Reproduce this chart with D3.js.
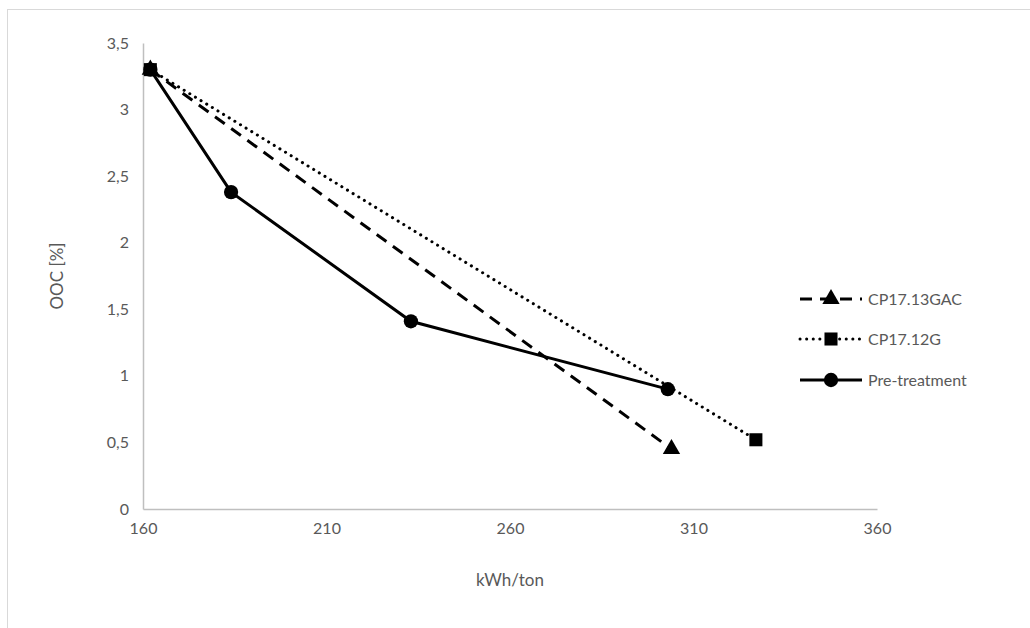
<!DOCTYPE html>
<html>
<head>
<meta charset="utf-8">
<script src="https://cdn.jsdelivr.net/npm/d3@7"></script>
<style>
body{margin:0;background:#fff;}
svg{display:block;}
text{font-family:Lato,"Open Sans",sans-serif;fill:#595959;}
</style>
</head>
<body>
<svg id="chart" width="1030" height="628"></svg>
<script>
const seriesNames = ["CP17.13GAC", "CP17.12G", "Pre-treatment"];
const gacX = [162, 304];
const gacY = [3.3, 0.45];
const g12X = [162, 327];
const g12Y = [3.3, 0.52];
const preX = [162, 184, 233, 303];
const preY = [3.3, 2.38, 1.41, 0.90];
const xTicks = [160, 210, 260, 310, 360];
const yTicks = [0, 0.5, 1, 1.5, 2, 2.5, 3, 3.5];

const svg = d3.select("#chart");
svg.append("rect").attr("x",7.5).attr("y",9.5).attr("width",1040).attr("height",640)
  .attr("fill","#fff").attr("stroke","#d9d9d9");

const x = d3.scaleLinear().domain([160,360]).range([143,877]);
const y = d3.scaleLinear().domain([0,3.5]).range([509,43]);
const fmt = d => String(d).replace(".", ",");

const xAxis = svg.append("g").attr("transform","translate(0,509)")
  .call(d3.axisBottom(x).tickValues(xTicks).tickSize(0).tickPadding(14).tickFormat(fmt));
const yAxis = svg.append("g").attr("transform","translate(143,0)")
  .call(d3.axisLeft(y).tickValues(yTicks).tickSize(0).tickPadding(14).tickFormat(fmt));
[xAxis,yAxis].forEach(a=>{
  a.select(".domain").attr("stroke","#bfbfbf").attr("stroke-width",1.5);
  a.selectAll("text").style("font-size","16px").attr("fill","#595959");
});

svg.append("text").attr("x",510).attr("y",586).attr("text-anchor","middle")
  .style("font-size","17px").text("kWh/ton");
svg.append("text").attr("transform","translate(63,276) rotate(-90)").attr("text-anchor","middle")
  .style("font-size","17px").text("OOC [%]");

const series = [
  {name:seriesNames[0], xs:gacX, ys:gacY, dash:"12,8", cap:"butt", marker:"triangle"},
  {name:seriesNames[1], xs:g12X, ys:g12Y, dash:"0.1,6.5", cap:"round", marker:"square"},
  {name:seriesNames[2], xs:preX, ys:preY, dash:null, cap:"butt", marker:"circle"}
];
const line = d3.line().x(d=>x(d[0])).y(d=>y(d[1]));
const sym = {triangle:d3.symbolTriangle, square:d3.symbolSquare, circle:d3.symbolCircle};
const symSize = {triangle:130, square:170, circle:160};

const drawOrder = [0, 2, 1];
drawOrder.forEach(k=>{
  const s = series[k];
  const pts = s.xs.map((v,i)=>[v,s.ys[i]]);
  svg.append("path").datum(pts).attr("d",line).attr("fill","none")
    .attr("stroke","#000").attr("stroke-width",3)
    .attr("stroke-dasharray",s.dash).attr("stroke-linecap",s.cap);
  svg.selectAll(null).data(pts).enter().append("path")
    .attr("d",d3.symbol().type(sym[s.marker]).size(symSize[s.marker]))
    .attr("transform",d=>`translate(${x(d[0])},${y(d[1])})`)
    .attr("fill","#000");
});

const legY = [299, 339, 380];
series.forEach((s,i)=>{
  const g = svg.append("g").attr("transform",`translate(0,${legY[i]})`);
  g.append("line").attr("x1",800).attr("x2",862).attr("y1",0).attr("y2",0)
    .attr("stroke","#000").attr("stroke-width",3)
    .attr("stroke-dasharray",s.dash).attr("stroke-linecap",s.cap);
  g.append("path").attr("d",d3.symbol().type(sym[s.marker]).size(symSize[s.marker]))
    .attr("transform","translate(831,0)").attr("fill","#000");
  g.append("text").attr("x",868).attr("y",6).style("font-size","16px").text(s.name);
});
</script>
</body>
</html>
